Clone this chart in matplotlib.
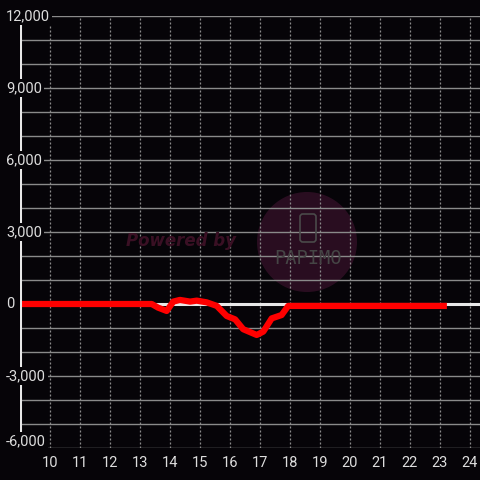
import matplotlib
matplotlib.use('Agg')
import matplotlib.pyplot as plt
from matplotlib.patches import Circle, FancyBboxPatch

# data
hours = [9, 13.39, 13.6, 13.89, 14.11, 14.33, 14.67, 14.89, 15.22, 15.56, 15.89,
         16.17, 16.44, 16.89, 17.11, 17.39, 17.72, 17.94, 18.2, 23.23]
values = [0, 0, -150, -290, 100, 170, 100, 140, 70, -80, -500,
          -640, -1050, -1290, -1150, -600, -460, -80, -80, -80]
x_ticks = list(range(10, 25))
y_labels = [12000, 9000, 6000, 3000, 0, -3000, -6000]
y_grid = list(range(-6000, 12001, 1000))

bg = '#060408'
txt = '#dddddd'
grid = '#8a8a8a'

plt.rcParams['font.family'] = ['Roboto', 'DejaVu Sans']

fig = plt.figure(figsize=(4.8, 4.8), dpi=100, facecolor=bg)
ax = fig.add_axes([20/480, 32/480, 460/480, 432/480], facecolor=bg)
ax.set_xlim(9, 9 + 460/30)
ax.set_ylim(-6000, 12000)
for s in ax.spines.values():
    s.set_visible(False)

# grid
for y in y_grid:
    ax.axhline(y, color=grid, lw=1.0, zorder=1)
for x in x_ticks:
    ax.axvline(x, color=grid, lw=0.9, ls=(0, (1.6, 1.6)), zorder=1)

# watermark (drawn on the figure, under the axes)
fig.text(181/480, 1 - 241/480, 'Powered by', color='#3a1024', fontsize=12,
         fontweight='bold', style='italic', ha='center', va='center',
         family='DejaVu Sans', zorder=1)
fig.patches.append(Circle((307/480, 1 - 242/480), 50/480, transform=fig.transFigure,
                          facecolor='#2c0e22', edgecolor='none', alpha=0.95, zorder=0))
fig.patches.append(FancyBboxPatch((300/480, 1 - 242/480), 16/480, 28/480,
                                  boxstyle='round,pad=0,rounding_size=0.006',
                                  transform=fig.transFigure, facecolor='none',
                                  edgecolor='#4a4a4a', lw=1.2))
fig.text(307.5/480, 1 - 258.5/480, 'PAPIMO', color='#454545', fontsize=13.5,
         ha='center', va='center', family='DejaVu Sans Mono')
ax.set_zorder(1)
ax.patch.set_alpha(0)

# zero line and left axis line
ax.axhline(0, color='#e8e8e8', lw=2.2, zorder=2)
ax.axvline(9, color='#e8e8e8', lw=2.2, zorder=4)

# series
ax.plot(hours, values, color='#ff0000', lw=4.5, solid_joinstyle='round',
        solid_capstyle='butt', zorder=3)

# y labels with background boxes over the axis line
for v in y_labels:
    va = 'bottom' if v == y_labels[-1] else 'center'
    ax.text(9 - 14/30, v, f'{v:,}', color=txt, fontsize=10.5, ha='left', va=va,
            zorder=5, bbox=dict(facecolor=bg, edgecolor='none', pad=1.8))

ax.set_yticks([])
ax.set_xticks(x_ticks)
ax.set_xticklabels([str(x) for x in x_ticks])
ax.tick_params(axis='x', length=0, pad=6, colors=txt, labelsize=10.5)

fig.savefig('out.png', dpi=100, facecolor=bg)
